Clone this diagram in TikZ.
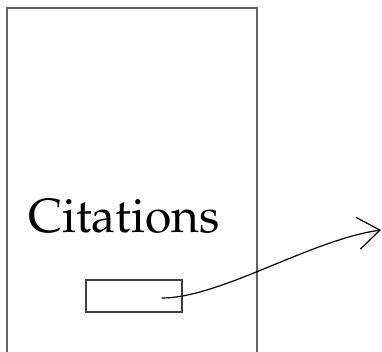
\documentclass[tikz,border=0pt]{standalone}
\usepackage[T1]{fontenc}
\usepackage{mathpazo}
\usetikzlibrary{arrows.meta, positioning}
\tikzset{
    page/.style={draw=black!62, line width=1.8pt, minimum width=250pt,
        minimum height=364pt, inner sep=0pt},
    citebox/.style={draw=black!75, line width=1.3pt, minimum width=96pt,
        minimum height=32pt, inner sep=0pt},
    link/.style={line width=1.2pt, -{Straight Barb[length=22pt, width=32pt]}},
}

\begin{document}
\begin{tikzpicture}[x=1pt, y=1pt]
        \useasboundingbox (0, 0) rectangle (382, 352);
        \clip (0, 0) rectangle (382, 352);
        \node[page] (doc) at (132, 162) {};
        \node[anchor=base, font=\fontsize{48}{58}\selectfont] (title)
            at (124, 119) {Citations};
        \node[citebox] (cite) at (134, 56) {};
        \coordinate (target) at (381, 122);
        \draw[link] ([xshift=-21pt, yshift=-2pt]cite.east) .. controls
            +(59, 0) and (310, 112) .. (target);
    \end{tikzpicture}
\end{document}
